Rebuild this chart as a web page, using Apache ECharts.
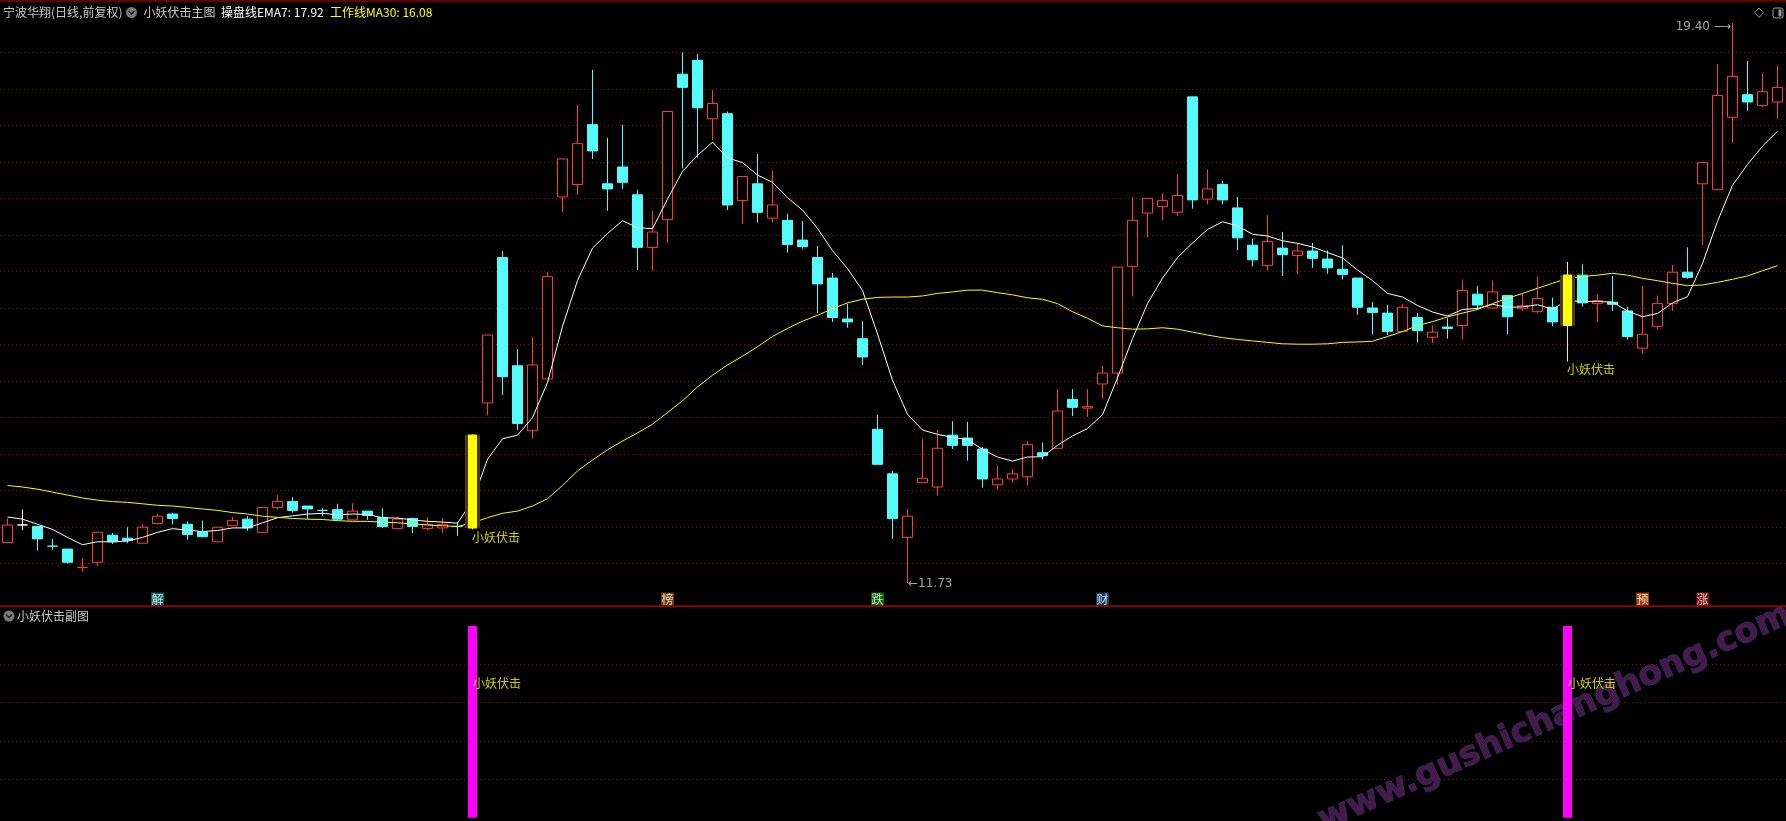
<!DOCTYPE html>
<html><head><meta charset="utf-8">
<script src="https://cdn.jsdelivr.net/npm/echarts@6/dist/echarts.min.js"></script>
<style>html,body{margin:0;padding:0;background:#000;overflow:hidden}#c{width:1786px;height:821px}</style>
</head><body><div id="c"></div>
<script>
// ---- data ----
const opens = [12.29,12.53,12.51,12.24,12.20,11.95,12.02,12.39,12.35,12.28,
12.55,12.68,12.54,12.44,12.30,12.52,12.61,12.43,12.77,12.85,
12.79,12.73,12.74,12.60,12.72,12.63,12.48,12.62,12.48,12.49,
12.51,12.49,14.20,16.19,14.71,13.82,14.53,17.02,17.19,18.01,
17.20,17.43,17.05,16.33,16.71,18.70,18.89,18.09,18.16,16.97,
17.20,16.73,16.70,16.43,16.19,15.91,15.35,15.08,13.84,13.23,
12.36,13.11,13.05,13.76,13.72,13.57,13.08,13.16,13.19,13.52,
13.58,14.25,14.13,14.46,14.61,16.07,16.80,16.89,16.81,18.39,
16.99,17.19,16.87,16.36,16.08,16.32,16.22,16.28,16.17,16.03,
15.91,15.50,15.43,15.18,15.37,15.10,15.24,15.26,15.69,15.50,
15.67,15.49,15.45,15.51,15.26,15.95,15.56,15.58,15.46,14.95,
15.25,15.56,15.99,17.20,17.12,18.11,18.42,18.27,18.32];
const closes = [12.53,12.53,12.34,12.24,12.02,11.95,12.43,12.30,12.32,12.50,
12.65,12.62,12.40,12.37,12.50,12.59,12.49,12.77,12.85,12.73,
12.75,12.73,12.61,12.72,12.66,12.51,12.61,12.51,12.54,12.54,
12.51,13.76,15.13,14.56,13.92,14.72,15.93,17.54,17.75,17.65,
17.13,17.22,16.33,16.54,18.19,18.52,18.24,18.30,16.91,17.30,
16.81,16.91,16.37,16.34,15.83,15.37,15.31,14.83,13.36,12.62,
12.65,13.17,13.58,13.62,13.62,13.16,13.16,13.23,13.63,13.48,
14.09,14.14,14.15,14.61,16.06,16.70,17.00,16.97,17.04,16.98,
17.13,16.98,16.46,16.16,16.41,16.23,16.28,16.18,16.05,15.96,
15.51,15.44,15.18,15.51,15.19,15.17,15.22,15.74,15.54,15.72,
15.38,15.53,15.63,15.31,15.95,15.57,15.60,15.55,15.11,15.14,
15.56,15.99,15.92,17.49,18.41,18.67,18.32,18.46,18.52];
const lows = [12.29,12.46,12.18,12.19,12.00,11.89,11.97,12.27,12.28,12.28,
12.55,12.54,12.33,12.36,12.29,12.52,12.45,12.43,12.74,12.70,
12.61,12.65,12.59,12.60,12.60,12.49,12.48,12.42,12.46,12.42,
12.38,12.47,14.03,14.31,13.83,13.71,14.53,16.81,17.05,17.54,
16.83,17.13,16.02,16.01,16.39,17.41,17.56,17.80,16.84,16.65,
16.67,16.67,16.26,16.31,15.43,15.31,15.23,14.72,13.36,12.34,
11.73,13.11,12.93,13.57,13.41,13.04,13.02,13.11,13.07,13.43,
13.58,14.02,14.01,14.26,14.45,15.66,16.47,16.70,16.76,16.86,
16.92,16.92,16.29,16.07,16.01,15.94,15.96,16.05,15.97,15.89,
15.41,15.14,15.13,15.18,15.03,15.02,15.08,15.07,15.47,15.49,
15.14,15.46,15.43,15.25,14.77,15.52,15.31,15.46,15.07,14.88,
15.21,15.46,15.90,16.36,17.12,17.76,18.20,18.25,18.09];
const highs = [12.62,12.74,12.51,12.34,12.20,12.07,12.43,12.42,12.50,12.54,
12.68,12.70,12.58,12.59,12.50,12.64,12.65,12.77,12.94,12.91,
12.79,12.76,12.82,12.83,12.72,12.76,12.64,12.63,12.64,12.62,
12.57,13.77,15.13,16.28,14.94,15.10,15.99,17.54,18.28,18.76,
17.83,18.01,17.12,16.83,18.19,19.00,18.98,18.48,18.19,17.30,
17.61,17.38,16.79,16.69,16.35,15.98,15.56,15.32,14.04,13.27,
12.75,13.71,13.83,13.95,13.94,13.60,13.34,13.30,13.68,13.66,
14.39,14.39,14.39,14.71,16.06,17.02,17.00,17.07,17.33,18.39,
17.40,17.24,17.02,16.45,16.77,16.54,16.39,16.39,16.29,16.36,
15.91,15.58,15.54,15.55,15.43,15.26,15.36,15.89,15.80,15.88,
15.67,15.69,15.93,15.64,16.13,16.10,15.68,15.94,15.52,15.80,
15.67,16.09,16.33,17.49,18.84,19.40,18.88,18.71,18.82];
const ema7 = [12.64,12.61,12.54,12.47,12.36,12.26,12.30,12.30,12.31,12.36,
12.43,12.48,12.46,12.44,12.455,12.49,12.49,12.56,12.63,12.655,
12.68,12.69,12.67,12.68,12.675,12.63,12.625,12.60,12.58,12.57,
12.555,12.86,13.43,13.71,13.76,14.00,14.48,15.25,15.875,16.32,
16.52,16.695,16.60,16.585,16.99,17.37,17.59,17.77,17.555,17.49,
17.32,17.22,17.01,16.84,16.59,16.285,16.04,15.74,15.145,14.51,
14.045,13.83,13.77,13.73,13.70,13.565,13.46,13.405,13.46,13.465,
13.62,13.75,13.85,14.04,14.545,15.08,15.56,15.91,16.19,16.39,
16.575,16.68,16.625,16.51,16.485,16.42,16.385,16.335,16.26,16.185,
16.02,15.875,15.70,15.65,15.535,15.445,15.39,15.48,15.495,15.55,
15.51,15.515,15.545,15.485,15.60,15.59,15.59,15.58,15.46,15.38,
15.425,15.57,15.655,16.11,16.685,17.18,17.465,17.715,17.92];
const ma30 = [13.07,13.05,13.02,12.98,12.94,12.90,12.87,12.85,12.84,12.82,
12.80,12.79,12.77,12.75,12.73,12.70,12.68,12.65,12.635,12.62,
12.61,12.605,12.59,12.58,12.58,12.57,12.56,12.545,12.53,12.52,
12.51,12.56,12.63,12.69,12.72,12.79,12.89,13.07,13.27,13.42,
13.56,13.68,13.79,13.91,14.07,14.23,14.42,14.58,14.72,14.84,
14.97,15.11,15.22,15.32,15.40,15.49,15.57,15.62,15.645,15.65,
15.65,15.665,15.70,15.72,15.745,15.745,15.71,15.68,15.64,15.62,
15.56,15.45,15.36,15.255,15.23,15.21,15.215,15.23,15.21,15.17,
15.13,15.095,15.07,15.05,15.03,15.01,15.005,15.005,15.01,15.03,
15.035,15.045,15.11,15.177,15.26,15.313,15.378,15.43,15.48,15.56,
15.633,15.70,15.77,15.838,15.906,15.93,15.95,15.975,15.95,15.906,
15.874,15.838,15.806,15.815,15.852,15.893,15.94,16.01,16.08];
const signalIdx = [31, 104];
const signalText = '小妖伏击';
const subSignalValue = 1;
const subLabelLevel = 0.7;
const tagIdx = [10, 44, 58, 73, 109, 113];
const tagChars = ['解', '榜', '跌', '财', '预', '涨'];
const tagLevel = 11.517;
const highMarkIdx = 115, highMarkVal = 19.40;
const lowMarkIdx = 60, lowMarkVal = 11.73;
const priceMin = 11.5, priceMax = 19.5, priceStep = 0.5;
const stockTitle = '宁波华翔(日线,前复权)';
const indicatorTitle = '小妖伏击主图';
const subTitle = '小妖伏击副图';
const watermark = 'www.gushichanghong.com';

// ---- styles ----
const UP = '#ff3b3b', DOWN = '#54fcfc', GRIDC = '#8e0606';
const CJK = "'Noto Sans CJK SC','DejaVu Sans',sans-serif";
const dojiColors = {1: '#ffffff', 5: UP};
const tagColors = {'解': '#0b7b7b', '榜': '#8a4a12', '跌': '#0a7d0a', '财': '#1b4777', '预': '#c24c05', '涨': '#920a0a'};

const cats = opens.map((_, i) => String(i + 1));
const ohlc = opens.map((o, i) => [o, closes[i], lows[i], highs[i]]);
const candleData = ohlc.map((v, i) => dojiColors[i] ? {value: v, itemStyle: {color: dojiColors[i], color0: dojiColors[i], borderColor: dojiColors[i], borderColor0: dojiColors[i]}} : v);
const sigData = ohlc.map((v, i) => signalIdx.includes(i) ? v : ['-', '-', '-', '-']);
const subData = cats.map((_, i) => signalIdx.includes(i) ? subSignalValue : '-');

const chart = echarts.init(document.getElementById('c'), null, {renderer: 'canvas'});
const splitLine = {show: true, showMinLine: false, showMaxLine: false, lineStyle: {color: GRIDC, type: [1, 3], width: 1}};
const mainTop = 15.77, mainBottom = 220.75;

const txt = (x, y, text, fill, extra) => Object.assign({type: 'text', x: x, y: y, silent: true,
  style: {text: text, fill: fill, font: "12px " + CJK, textVerticalAlign: 'middle', verticalAlign: 'middle'}}, extra || {});

chart.setOption({
  animation: false,
  backgroundColor: '#000000',
  grid: [
    {left: -1, right: 1, top: mainTop, bottom: mainBottom},
    {left: -1, right: 1, top: 626, bottom: 3.3}
  ],
  xAxis: [
    {type: 'category', data: cats, gridIndex: 0, show: false},
    {type: 'category', data: cats, gridIndex: 1, show: false}
  ],
  yAxis: [
    {gridIndex: 0, min: priceMin, max: priceMax, interval: priceStep, axisLine: {show: false}, axisTick: {show: false}, axisLabel: {show: false}, splitLine: splitLine},
    {gridIndex: 1, min: 0, max: 1, interval: 0.2, axisLine: {show: false}, axisTick: {show: false}, axisLabel: {show: false}, splitLine: splitLine}
  ],
  series: [
    {type: 'candlestick', name: 'K', data: candleData, barWidth: 10, z: 2,
     itemStyle: {color: '#000000', color0: DOWN, borderColor: UP, borderColor0: DOWN, borderWidth: 1}},
    {type: 'line', name: 'EMA7', data: ema7, symbol: 'none', z: 3, lineStyle: {color: '#ffffff', width: 1}},
    {type: 'line', name: 'MA30', data: ma30, symbol: 'none', z: 3, lineStyle: {color: '#ffff00', width: 1}},
    {type: 'candlestick', name: 'sigBack', data: sigData, barWidth: 14, z: 4,
     itemStyle: {color: '#4a3828', color0: '#4a3828', borderColor: '#4a3828', borderColor0: '#4a3828', borderWidth: 1}},
    {type: 'candlestick', name: 'sig', data: sigData, barWidth: 8, z: 5,
     itemStyle: {color: '#ffff00', color0: '#ffff00', borderColor: '#ffff00', borderColor0: '#ffff00', borderWidth: 1}},
    {type: 'scatter', name: 'sigText', z: 6, symbolSize: 1, itemStyle: {color: 'transparent'},
     data: signalIdx.map(i => [i, lows[i]]),
     label: {show: true, position: [0, 3], formatter: signalText, color: '#ffff00', fontSize: 12, fontFamily: CJK}},
    {type: 'scatter', name: 'tags', z: 6, symbol: 'rect', symbolSize: 13,
     data: tagIdx.map((x, k) => ({value: [x, tagLevel], name: tagChars[k], itemStyle: {color: tagColors[tagChars[k]]}})),
     label: {show: true, position: 'inside', formatter: p => p.name, color: '#ffffff', fontSize: 12, fontFamily: CJK}},
    {type: 'scatter', name: 'hi', z: 6, symbolSize: 1, itemStyle: {color: 'transparent'},
     data: [[highMarkIdx, highMarkVal]],
     label: {show: true, position: 'left', distance: 1, offset: [0, 4], formatter: highMarkVal.toFixed(2) + ' ⟶', color: '#c8c8c8', fontSize: 12, fontFamily: "'DejaVu Sans',sans-serif"}},
    {type: 'scatter', name: 'lo', z: 6, symbolSize: 1, itemStyle: {color: 'transparent'},
     data: [[lowMarkIdx, lowMarkVal]],
     label: {show: true, position: 'right', distance: 0, formatter: '←' + lowMarkVal.toFixed(2), color: '#c8c8c8', fontSize: 12, fontFamily: "'DejaVu Sans',sans-serif"}},
    {type: 'bar', name: 'sub', xAxisIndex: 1, yAxisIndex: 1, data: subData, barWidth: 9, z: 3, itemStyle: {color: '#ff00ff'}},
    {type: 'scatter', name: 'subText', xAxisIndex: 1, yAxisIndex: 1, z: 6, symbolSize: 1, itemStyle: {color: 'transparent'},
     data: signalIdx.map(i => [i, subLabelLevel]),
     label: {show: true, position: 'right', distance: 0, formatter: signalText, color: '#ffff00', fontSize: 12, fontFamily: CJK}}
  ],
  graphic: [
    {type: 'text', x: 1555, y: 718, rotation: 0.419, z: 1, silent: true,
     style: {text: watermark, font: "bold 34px 'DejaVu Sans',sans-serif", fill: '#461a4a', stroke: '#2c2c62', lineWidth: 1.2,
             textAlign: 'center', align: 'center', textVerticalAlign: 'middle', verticalAlign: 'middle'}},
    {type: 'rect', z: 10, silent: true, shape: {x: 0, y: 0.5, width: 1786, height: 1}, style: {fill: '#c00000'}},
    {type: 'rect', z: 10, silent: true, shape: {x: 0, y: 605.5, width: 1786, height: 1.3}, style: {fill: '#d00000'}},
    txt(3, 12.5, stockTitle, '#c8c8c8'),
    {type: 'circle', silent: true, shape: {cx: 131.5, cy: 12.5, r: 5.5}, style: {fill: '#7a7a7a'}},
    {type: 'polyline', silent: true, shape: {points: [[128.5, 11], [131.5, 14], [134.5, 11]]}, style: {stroke: '#1a1a1a', lineWidth: 1.5, fill: null}},
    txt(143.5, 12.5, indicatorTitle, '#c8c8c8'),
    txt(221, 12.5, '操盘线EMA7: ' + ema7[ema7.length - 1].toFixed(2), '#ffffff'),
    txt(330, 12.5, '工作线MA30: ' + ma30[ma30.length - 1].toFixed(2), '#ffff00'),
    {type: 'circle', silent: true, shape: {cx: 9, cy: 616, r: 5.5}, style: {fill: '#7a7a7a'}},
    {type: 'polyline', silent: true, shape: {points: [[6, 614.5], [9, 617.5], [12, 614.5]]}, style: {stroke: '#1a1a1a', lineWidth: 1.5, fill: null}},
    txt(17, 616, subTitle, '#c8c8c8'),
    {type: 'polygon', silent: true, shape: {points: [[1759, 8], [1763.5, 12.7], [1759, 17.4], [1754.5, 12.7]]}, style: {stroke: '#9a9a9a', lineWidth: 1, fill: null}},
    {type: 'rect', silent: true, shape: {x: 1773, y: 8, width: 10, height: 10, r: 2}, style: {stroke: '#9a9a9a', lineWidth: 1, fill: null}},
    {type: 'rect', silent: true, shape: {x: 1778.5, y: 9.5, width: 3, height: 7}, style: {fill: '#9a9a9a'}}
  ]
});
</script>
</body></html>
